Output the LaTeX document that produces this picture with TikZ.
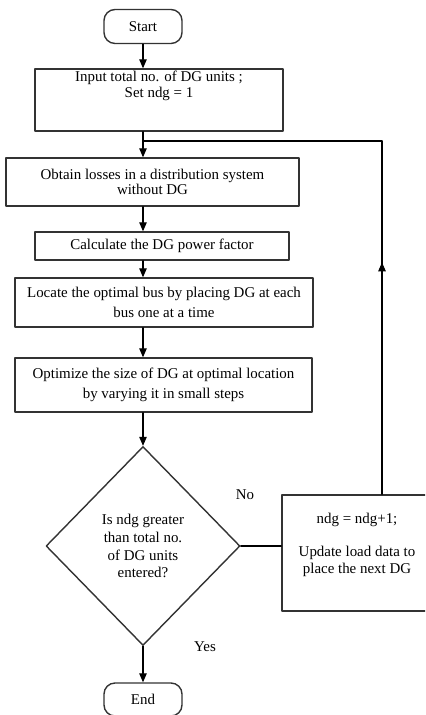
\documentclass[tikz,border=0pt]{standalone}
\usepackage{fontspec}
\setmainfont{Liberation Serif}
\usetikzlibrary{arrows.meta,decorations.markings,shapes.geometric}
\tikzset{
  every picture/.append style={line cap=round,line join=round},
  dg term/.style={draw=black!80,thick,rounded corners=2.2mm,minimum width=1.56cm,minimum height=0.68cm,inner sep=0pt},
  dg box/.style={draw=black!80,thick,inner sep=0pt,align=center},
  dg decision/.style={diamond,draw=black!80,thick,minimum width=3.88cm,minimum height=3.98cm,inner sep=0pt,align=center},
  dg arrow/.style={semithick,-{Triangle[length=1.8mm,width=1.5mm]}},
  dg line/.style={semithick},
  dg back/.style={semithick,postaction={decorate},decoration={markings,mark=at position 4.64cm with {\arrow{Triangle[length=1.8mm,width=1.5mm]}}}},
  dg note/.style={align=center}
}
\begin{document}
\begin{tikzpicture}[x=0.02cm,y=-0.02cm,font=\fontsize{8.5}{9.6}\selectfont]
  \clip (0,0) rectangle (425,715);
  % boxes of the flow
  \node[dg term] (start) at (143,26.5) {Start};
  \node[dg box,minimum width=4.96cm,minimum height=1.24cm] (input) at (159,100) {};
  \node[dg note] (inputtext) at (159,86) {Input total no. of DG units ;\\[-0.6pt]Set ndg = 1};
  \node[dg box,minimum width=5.86cm,minimum height=0.96cm] (losses) at (152.5,182) {Obtain losses in a distribution system\\[-1.4pt]without DG};
  \node[dg box,minimum width=5.08cm,minimum height=0.56cm] (pf) at (162,246) {Calculate the DG power factor};
  \node[dg box,minimum width=5.96cm,minimum height=0.98cm] (locate) at (164,302.5) {Locate the optimal bus by placing DG at each\\[1.6pt]bus one at a time};
  \node[dg box,minimum width=5.94cm,minimum height=1.08cm] (size) at (163.5,385) {Optimize the size of DG at optimal location\\[1.6pt]by varying it in small steps};
  \node[dg decision] (check) at (143,546) {Is ndg greater\\[0.6pt]than total no.\\[0.6pt]of DG units\\[0.6pt]entered?};
  \node[dg box,minimum width=2.96cm,minimum height=2.32cm] (update) at (356,553) {};
  \node[dg note] (updatetext) at (357,545) {ndg = ndg+1;\\[9pt]Update load data to\\place the next DG};
  \node[dg term,minimum height=0.66cm] (end) at (143,699.5) {End};
  \node (no) at (245,495) {No};
  \node (yes) at (205,647) {Yes};
  \coordinate (back) at (382,141);
  % connectors
  \draw[dg arrow] (start) -- (start |- input.north);
  \draw[dg arrow] (input.south -| start) -- (start |- losses.north);
  \draw[dg arrow] (losses.south -| start) -- (start |- pf.north);
  \draw[dg arrow] (pf.south -| start) -- (start |- locate.north);
  \draw[dg arrow] (locate.south -| start) -- (start |- size.north);
  \draw[dg arrow] (size.south -| start) -- (check.north);
  \draw[dg arrow] (check) -- (end);
  \draw[dg line] (check.east) -- (check.east -| update.west);
  \draw[dg back] (update.north -| back) -- (back);
  \draw[dg line] (back) -- (back -| start);
\end{tikzpicture}
\end{document}
